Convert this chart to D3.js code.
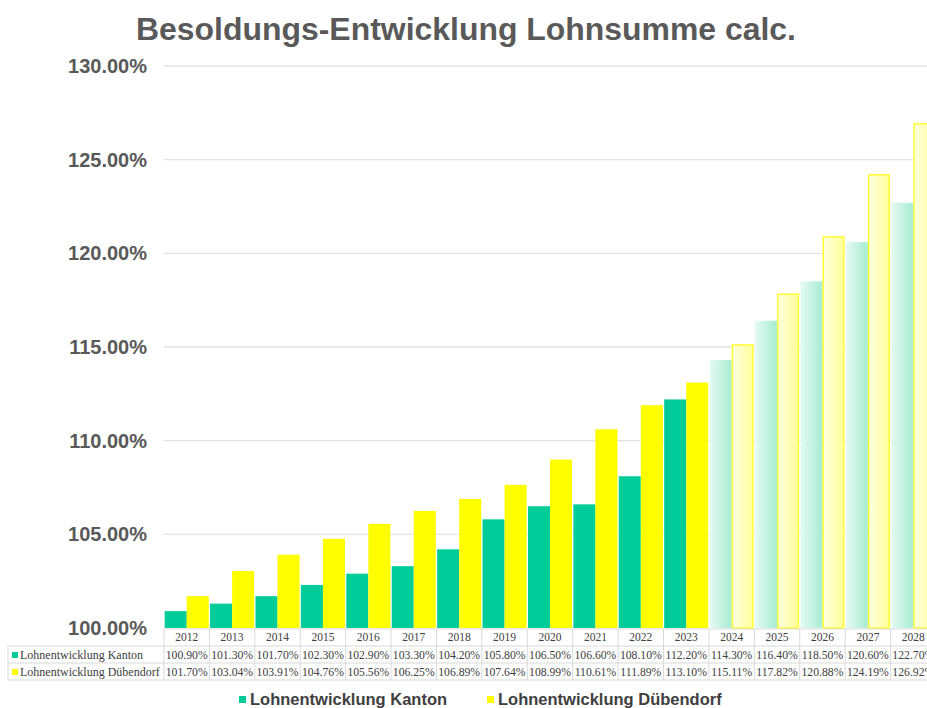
<!DOCTYPE html>
<html>
<head>
<meta charset="utf-8">
<script src="https://cdn.jsdelivr.net/npm/d3@7/dist/d3.min.js"></script>
<style>
  body { margin: 0; background: #fff; }
  svg { display: block; }
</style>
</head>
<body>
<svg id="chart"></svg>
<script>
// data
const years = ["2012","2013","2014","2015","2016","2017","2018","2019","2020","2021","2022","2023","2024","2025","2026","2027","2028"];
const kanton = [100.90,101.30,101.70,102.30,102.90,103.30,104.20,105.80,106.50,106.60,108.10,112.20,114.30,116.40,118.50,120.60,122.70];
const duebendorf = [101.70,103.04,103.91,104.76,105.56,106.25,106.89,107.64,108.99,110.61,111.89,113.10,115.11,117.82,120.88,124.19,126.92];
const yTicks = [100,105,110,115,120,125,130];
const seriesNames = ["Lohnentwicklung Kanton", "Lohnentwicklung Dübendorf"];
const firstForecast = "2024";

const width = 927, height = 708;
const svg = d3.select("#chart").attr("width", width).attr("height", height);

const x = d3.scaleBand().domain(years).range([164, 936]).paddingInner(0).paddingOuter(0);
const xs = d3.scaleBand().domain([0, 1]).range([0, x.bandwidth()]).paddingOuter(0.03).paddingInner(0.0);
const y = d3.scaleLinear().domain([100, 130]).range([628, 66]);

const defs = svg.append("defs");
const gk = defs.append("linearGradient").attr("id", "gk");
gk.append("stop").attr("offset", "0%").attr("stop-color", "#e6faf3");
gk.append("stop").attr("offset", "100%").attr("stop-color", "#a6ecd3");
const gd = defs.append("linearGradient").attr("id", "gd");
gd.append("stop").attr("offset", "0%").attr("stop-color", "#ffffe0");
gd.append("stop").attr("offset", "100%").attr("stop-color", "#ffff99");

// title
svg.append("text")
  .attr("x", 466).attr("y", 40)
  .attr("text-anchor", "middle")
  .style("font-family", "Liberation Sans, Arial, sans-serif")
  .style("font-weight", "bold").style("font-size", "31px")
  .attr("textLength", 660).attr("lengthAdjust", "spacingAndGlyphs")
  .attr("fill", "#595959")
  .text("Besoldungs-Entwicklung Lohnsumme calc.");

// grid + y axis
const yAxis = d3.axisLeft(y).tickValues(yTicks).tickSize(0).tickPadding(0)
  .tickFormat(d => d3.format(".2f")(d) + "%");
const ga = svg.append("g").attr("transform", "translate(147,0)").call(yAxis);
ga.select(".domain").remove();
ga.selectAll("text")
  .style("font-family", "Liberation Sans, Arial, sans-serif")
  .style("font-weight", "bold").style("font-size", "20px")
  .attr("fill", "#595959");

svg.append("g").selectAll("line").data(yTicks.filter(d => d > 100)).enter()
  .append("line")
  .attr("x1", 164).attr("x2", width)
  .attr("y1", d => y(d)).attr("y2", d => y(d))
  .attr("stroke", "#e3e3e3").attr("stroke-width", 1.3);

// bars
const fIdx = years.indexOf(firstForecast);
const rows = years.map((yr, i) => ({ yr, i, vals: [kanton[i], duebendorf[i]] }));
const groups = svg.append("g").selectAll("g").data(rows).enter()
  .append("g").attr("transform", d => `translate(${x(d.yr)},0)`);

groups.selectAll("rect")
  .data(d => d.vals.map((v, s) => ({ v, s, future: d.i >= fIdx })))
  .enter().append("rect")
  .attr("x", d => xs(d.s) + (d.s === 1 && d.future ? 0.75 : 0))
  .attr("width", d => xs.bandwidth() - (d.s === 1 && d.future ? 1.5 : 0))
  .attr("y", d => y(d.v))
  .attr("height", d => y(100) - y(d.v))
  .attr("fill", d => d.future ? (d.s === 0 ? "url(#gk)" : "url(#gd)") : (d.s === 0 ? "#00cc99" : "#ffff00"))
  .attr("stroke", d => d.future && d.s === 1 ? "#ffff33" : "none")
  .attr("stroke-width", 1.5);

// data table
const tbl = svg.append("g");
const rowY = [629, 646, 663, 680];
const tableLeft = 8;
const border = "#d9d9d9";
tbl.append("line").attr("x1", 164).attr("x2", width).attr("y1", rowY[0]).attr("y2", rowY[0]).attr("stroke", border);
[1, 2, 3].forEach(r => {
  tbl.append("line").attr("x1", tableLeft).attr("x2", width).attr("y1", rowY[r]).attr("y2", rowY[r]).attr("stroke", border);
});
tbl.append("line").attr("x1", tableLeft).attr("x2", tableLeft).attr("y1", rowY[1]).attr("y2", rowY[3]).attr("stroke", border);
years.forEach(yr => {
  tbl.append("line").attr("x1", x(yr)).attr("x2", x(yr)).attr("y1", rowY[0]).attr("y2", rowY[3]).attr("stroke", border);
});

const serif = "Liberation Serif, Times New Roman, serif";
tbl.selectAll("text.yr").data(years).enter().append("text")
  .attr("x", d => x(d) + x.bandwidth() / 2).attr("y", 641)
  .attr("text-anchor", "middle")
  .style("font-family", serif).style("font-size", "11.5px").attr("fill", "#404040")
  .text(d => d);

[kanton, duebendorf].forEach((arr, s) => {
  tbl.selectAll("text.v" + s).data(arr).enter().append("text")
    .attr("x", (d, i) => x(years[i]) + x.bandwidth() / 2).attr("y", rowY[s + 1] + 12.5)
    .attr("text-anchor", "middle")
    .style("font-family", serif).style("font-size", "11.7px").attr("fill", "#404040")
    .text(d => d3.format(".2f")(d) + "%");
  tbl.append("rect").attr("x", 12).attr("y", rowY[s + 1] + 6).attr("width", 6).attr("height", 6)
    .attr("fill", s === 0 ? "#00cc99" : "#ffff00");
  tbl.append("text").attr("x", 20).attr("y", rowY[s + 1] + 12.5)
    .style("font-family", serif).style("font-size", "12px").attr("fill", "#404040")
    .text(seriesNames[s]);
});

// legend
const leg = svg.append("g").attr("transform", "translate(0,705)");
const legX = [239, 487];
seriesNames.forEach((n, s) => {
  leg.append("rect").attr("x", legX[s]).attr("y", -9).attr("width", 7).attr("height", 7)
    .attr("fill", s === 0 ? "#00cc99" : "#ffff00");
  leg.append("text").attr("x", legX[s] + 11).attr("y", 0)
    .style("font-family", "Liberation Sans, Arial, sans-serif")
    .style("font-weight", "bold").style("font-size", "16.5px").attr("fill", "#404040")
    .text(n);
});
</script>
</body>
</html>
